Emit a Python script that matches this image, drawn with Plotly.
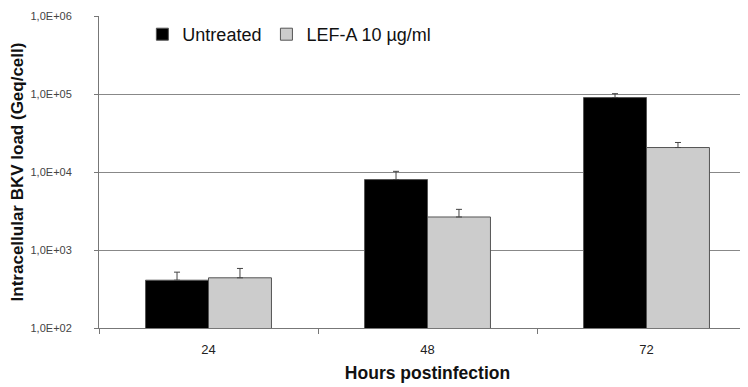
import plotly.graph_objects as go

hours = ["24", "48", "72"]
untreated = [410, 8000, 90000]
untreated_err = [110, 2200, 11000]
lefa = [440, 2650, 20600]
lefa_err = [140, 670, 3300]
y_tickvals = [1e2, 1e3, 1e4, 1e5, 1e6]
y_ticktext = ["1,0E+02", "1,0E+03", "1,0E+04", "1,0E+05", "1,0E+06"]

FONT = "Liberation Sans, Arial, sans-serif"

fig = go.Figure()
fig.add_trace(go.Bar(
    x=hours, y=untreated, name="Untreated",
    marker=dict(color="#000000", line=dict(color="#555555", width=1)),
    error_y=dict(type="data", array=untreated_err, arrayminus=[0]*3, symmetric=False,
                 color="#444444", thickness=1, width=3),
))
fig.add_trace(go.Bar(
    x=hours, y=lefa, name="LEF-A 10 µg/ml",
    marker=dict(color="#cccccc", line=dict(color="#555555", width=1)),
    error_y=dict(type="data", array=lefa_err, arrayminus=[0]*3, symmetric=False,
                 color="#444444", thickness=1, width=3),
))

fig.update_layout(
    width=748, height=387,
    margin=dict(l=91, r=0, t=8, b=67),
    paper_bgcolor="white", plot_bgcolor="white",
    font=dict(family=FONT, color="#222222"),
    barmode="group", bargap=0.425, bargroupgap=0,
    showlegend=True,
    legend=dict(orientation="h", x=0.066, y=1.0, xanchor="left", yanchor="top",
                font=dict(size=18, color="#111111"), itemwidth=30,
                bgcolor="rgba(0,0,0,0)", traceorder="normal"),
    xaxis=dict(
        range=[-0.5, 2.5], showline=True, linecolor="#777777", linewidth=1,
        ticks="outside", tickson="boundaries", ticklen=5, tickcolor="#777777",
        tickfont=dict(size=13, color="#222222"), ticklabelstandoff=9,
        automargin=False,
        title=dict(text="<b>Hours postinfection</b>", font=dict(size=17.5, color="#111111"), standoff=11),
    ),
    yaxis=dict(
        type="log", range=[2, 6], tickvals=y_tickvals, ticktext=y_ticktext,
        showgrid=True, gridcolor="#888888", gridwidth=1.3,
        showline=True, linecolor="#777777", linewidth=1,
        ticks="outside", ticklen=4, tickcolor="#777777",
        tickfont=dict(size=11, color="#444444"), ticklabelstandoff=20,
        automargin=True,
        title=dict(text="<b>Intracellular BKV load (Geq/cell)</b>", font=dict(size=17, color="#111111"), standoff=9),
    ),
)

fig.write_html("out.html")
